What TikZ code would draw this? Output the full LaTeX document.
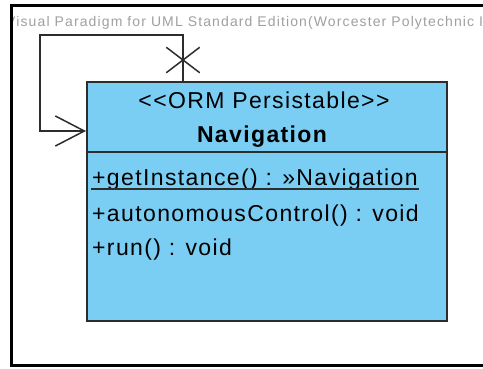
\documentclass[tikz,border=0pt]{standalone}
\usepackage{fontspec}
\setmainfont{Liberation Sans}[LetterSpace=6]
\newfontfamily\wmfont{Liberation Sans}[LetterSpace=8]
\usetikzlibrary{arrows.meta,shapes.misc,calc}
\definecolor{classblue}{RGB}{122,206,243}
\definecolor{wmgray}{RGB}{160,160,160}
\definecolor{edgegray}{RGB}{45,45,45}
\tikzset{
  classbox/.style={draw=edgegray, fill=classblue, line width=1.5, inner sep=0},
  classline/.style={draw=edgegray, line width=1.5},
  member/.style={anchor=base west, inner sep=0, font=\fontsize{23}{27}\selectfont},
  assoc/.style={draw=edgegray, line width=1.5}
}
\begin{document}
\begin{tikzpicture}[x=1pt,y=-1pt]
\useasboundingbox (0,0) rectangle (483,368);
\fill[white] (0,0) rectangle (483,368);

% watermark
\begin{scope}
\clip (12,7) rectangle (483,364);
\node[anchor=base west, inner sep=0, text=wmgray, font=\wmfont\fontsize{14}{16}\selectfont] (wm) at (6,26) {Visual Paradigm for UML Standard Edition(Worcester Polytechnic Institute)};
\end{scope}
\draw[line width=3] (483,5.5) -- (11,5.5) -- (11,365) -- (483,365);

% class
\fill[gray!60] (88,83) rectangle (448,322);
\node[classbox, minimum width=360, minimum height=239, anchor=north west] (nav) at (86,81) {};
\draw[classline] ($(nav.north west)+(0,71)$) -- ($(nav.north east)+(0,71)$);

\node[anchor=base, inner sep=0, font=\fontsize{23}{27}\selectfont] (stereo) at (264,108) {<{}<ORM Persistable>{}>};
\node[anchor=base, inner sep=0, font=\fontsize{23}{27}\selectfont\bfseries] (name) at (262,142) {Navigation};

\node[member] (getinst) at (92,185) {+getInstance() : »Navigation};
\draw[classline] ($(getinst.base west)+(-1,4)$) -- ($(getinst.base east)+(1,4)$);
\node[member] (auto) at (92,221) {+autonomousControl() : void};
\node[member] (run) at (92,255) {+run() : void};

% self association
\coordinate (loopstart) at ($(nav.north west)+(97,0)$);
\coordinate (loopend) at ($(nav.north west)+(0,50)$);
\path[assoc,-{Straight Barb[length=29,width=30]}] (loopstart) |- (40,35) |- (loopend);
\node[cross out, draw=edgegray, line width=1.5, minimum width=32, minimum height=24, inner sep=0] (xmark) at (183,60) {};
\end{tikzpicture}
\end{document}
